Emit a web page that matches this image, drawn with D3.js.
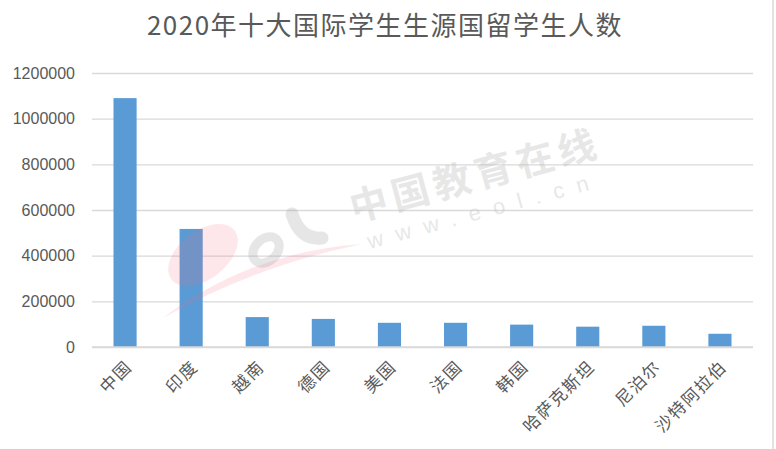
<!DOCTYPE html>
<html><head><meta charset="utf-8">
<script src="https://cdn.jsdelivr.net/npm/d3@7"></script>
<style>body{margin:0;background:#fff;}svg{display:block;}</style>
</head><body>
<script>
const categories = ["中国","印度","越南","德国","美国","法国","韩国","哈萨克斯坦","尼泊尔","沙特阿拉伯"];
const students = [1090000, 517000, 131000, 123000, 106000, 106000, 98000, 89000, 93000, 58000];
const yTicks = [0, 200000, 400000, 600000, 800000, 1000000, 1200000];
const titleText = "2020年十大国际学生生源国留学生人数";

(function () {
const W = 776, H = 449;
const svg = d3.select("body").append("svg").attr("width", W).attr("height", H);
svg.append("rect").attr("width", W).attr("height", H).attr("fill", "#fff");
svg.append("line").attr("x1", 773).attr("x2", 773).attr("y1", 0).attr("y2", H)
  .attr("stroke", "#d9d9d9").attr("stroke-width", 1.5);

const mL = 92, mR = 753, mT = 73, mB = 347;
const x = d3.scaleBand().domain(categories).range([mL, mR]).paddingInner(0.65).paddingOuter(0.325);
const y = d3.scaleLinear().domain([0, 1200000]).range([mB, mT]);

// grid
const yAxis = d3.axisLeft(y).tickValues(yTicks).tickSize(-(mR - mL)).tickPadding(17).tickFormat(d3.format("d"));
const gy = svg.append("g").attr("transform", `translate(${mL},0)`).call(yAxis);
gy.select(".domain").remove();
gy.selectAll(".tick line").attr("stroke", "#d9d9d9").attr("stroke-width", 1.4);
gy.selectAll(".tick text").attr("fill", "#595959").attr("font-family", "Liberation Sans, Arial").attr("font-size", 16);

// bars
svg.append("g").selectAll("rect").data(categories).join("rect")
  .attr("x", d => x(d)).attr("width", x.bandwidth())
  .attr("y", (d, i) => y(students[i])).attr("height", (d, i) => y(0) - y(students[i]))
  .attr("fill", "#5b9bd5");

// baseline over bars
svg.append("line").attr("x1", mL).attr("x2", mR).attr("y1", y(0)).attr("y2", y(0))
  .attr("stroke", "#d9d9d9").attr("stroke-width", 1.4);

// watermark (drawn on top)
const wm = svg.append("g").attr("pointer-events", "none");
wm.append("ellipse").attr("cx", 203).attr("cy", 255).attr("rx", 40).attr("ry", 24)
  .attr("transform", "rotate(-38,203,255)").attr("fill", "#f06a7a").attr("opacity", 0.16);
wm.append("path").attr("d", "M163,318 Q250,252 362,244 Q255,266 163,318 Z")
  .attr("fill", "#f06a7a").attr("opacity", 0.16);
wm.append("ellipse").attr("cx", 266).attr("cy", 250).attr("rx", 15).attr("ry", 11)
  .attr("transform", "rotate(-45,266,250)").attr("fill", "none").attr("stroke", "#9a9a9a")
  .attr("stroke-width", 9).attr("opacity", 0.25);
wm.append("path").attr("d", "M292,214 Q300,240 322,238")
  .attr("fill", "none").attr("stroke", "#9a9a9a").attr("stroke-width", 13)
  .attr("stroke-linecap", "round").attr("opacity", 0.25);
const wt = wm.append("g").attr("transform", "translate(354,222) rotate(-15)");
wt.append("text").text("中国教育在线").attr("font-family", "Noto Sans CJK SC").attr("font-weight", "bold")
  .attr("font-size", 38).attr("letter-spacing", 5).attr("fill", "#bdbdbd").attr("opacity", 0.35);
wt.append("text").text("www.eol.cn").attr("x", 8).attr("y", 30).attr("font-family", "Liberation Sans")
  .attr("font-size", 22).attr("letter-spacing", 13).attr("fill", "#bdbdbd").attr("opacity", 0.35);

// x labels
const xAxis = d3.axisBottom(x).tickSize(0).tickPadding(0);
const gx = svg.append("g").attr("transform", `translate(0,${mB})`).call(xAxis);
gx.select(".domain").remove();
gx.selectAll(".tick text")
  .attr("fill", "#595959").attr("font-family", "Noto Sans CJK SC").attr("font-size", 17)
  .attr("letter-spacing", 1.5)
  .attr("text-anchor", "end").attr("dy", 0)
  .attr("transform", "translate(8,21) rotate(-45)");

// title
svg.append("text").text(titleText).attr("x", 385).attr("y", 35).attr("text-anchor", "middle")
  .attr("font-family", "Noto Sans CJK SC").attr("font-size", 26).attr("letter-spacing", 1.5)
  .attr("fill", "#595959");
})();
</script>
</body></html>
